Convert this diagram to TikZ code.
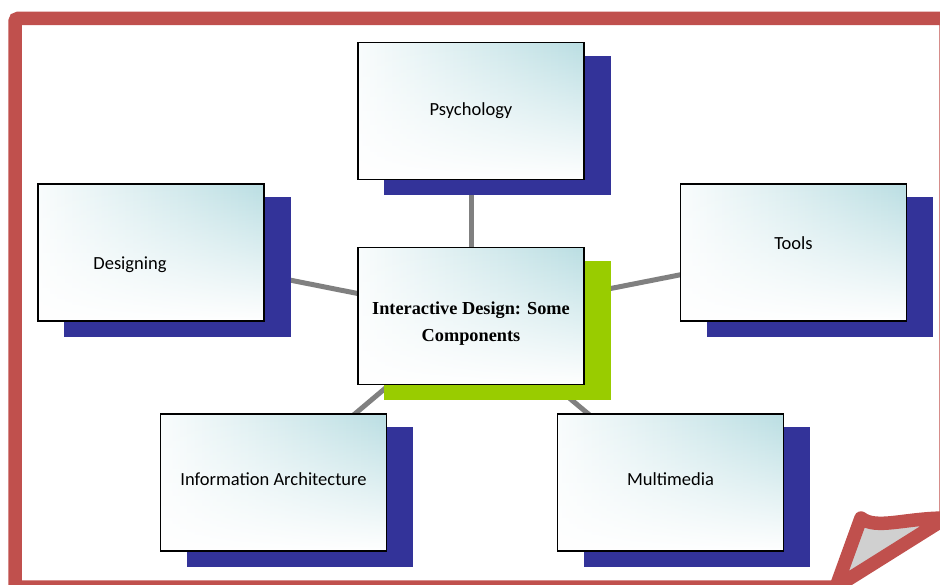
\documentclass[tikz,border=0pt]{standalone}
\usepackage{fontspec}
\setmainfont{Carlito}
\newfontfamily\titlefont{Liberation Serif}
\usetikzlibrary{fadings}
\definecolor{framered}{RGB}{192,80,77}
\definecolor{boxteal}{RGB}{180,219,224}
\definecolor{shadowblue}{RGB}{51,51,153}
\definecolor{shadowgreen}{RGB}{153,204,0}
\definecolor{linegray}{RGB}{128,128,128}
\definecolor{flapgray}{RGB}{208,208,208}
\pgfdeclarehorizontalshading{boxshade}{100bp}{color(0bp)=(white); color(20bp)=(white); color(80bp)=(boxteal); color(100bp)=(boxteal)}
\tikzfading[name=fadedown, top color=transparent!0, middle color=transparent!40, bottom color=transparent!100]
\pgfdeclarelayer{lines}
\pgfdeclarelayer{shadows}
\pgfsetlayers{lines,shadows,main}
\tikzset{
  boxfont/.style={font=\fontsize{18.5}{22}\selectfont, text=black},
  compbox/.style={draw=black, line width=1.6pt, fill=white,
    minimum width=226pt, minimum height=137pt, inner sep=0pt, boxfont,
    path picture={\shade[shading=boxshade, path fading=fadedown]
      (path picture bounding box.south west) rectangle (path picture bounding box.north east);}},
  connector/.style={draw=linegray, line width=5pt},
  framestroke/.style={draw=framered, line width=13.5pt},
}
\newcommand{\boxshadow}[2]{\fill[#2] ([xshift=27pt,yshift=-15pt]#1.south west) rectangle ([xshift=26pt,yshift=-14pt]#1.north east);}
\begin{document}
\begin{tikzpicture}[x=1pt,y=-1pt]
\useasboundingbox (0,0) rectangle (940,585);
% frame
\draw[framestroke, rounded corners=3pt] (836,587) -- (15,587) -- (15,18.5) -- (946,18.5) -- (946,518);
\filldraw[fill=flapgray, framestroke, line join=round] (836,587) -- (861,518) .. controls (876,530) and (905,518) .. (946,518) -- cycle;
% boxes
\node[compbox] (psy) at (471,111) {Psychology};
\node[compbox, label={[xshift=-21pt,yshift=-12pt, boxfont]center:Designing}] (des) at (151,252.5) {};
\node[compbox, label={[yshift=9.5pt, boxfont]center:Tools}] (tools) at (793.5,252.5) {};
\node[compbox, label={[yshift=-8pt, align=center, text=black, font=\titlefont\bfseries\fontsize{18.3}{27}\selectfont]center:Interactive Design: Some\\Components}] (core) at (471,316) {};
\node[compbox, label={[yshift=3pt, boxfont]center:Information Architecture}] (info) at (273.5,482.5) {};
\node[compbox, label={[yshift=3pt, boxfont]center:Multimedia}] (multi) at (670.5,482.5) {};
% shadows
\begin{pgfonlayer}{shadows}
\boxshadow{psy}{shadowblue}
\boxshadow{des}{shadowblue}
\boxshadow{tools}{shadowblue}
\boxshadow{core}{shadowgreen}
\boxshadow{info}{shadowblue}
\boxshadow{multi}{shadowblue}
\end{pgfonlayer}
% connectors
\begin{pgfonlayer}{lines}
\draw[connector] (core.center) -- (psy.center);
\draw[connector] (core.center) -- (des.center);
\draw[connector] (core.center) -- (tools.center);
\draw[connector] (core.center) -- (info.center);
\draw[connector] (core.center) -- (multi.center);
\end{pgfonlayer}
\end{tikzpicture}
\end{document}
